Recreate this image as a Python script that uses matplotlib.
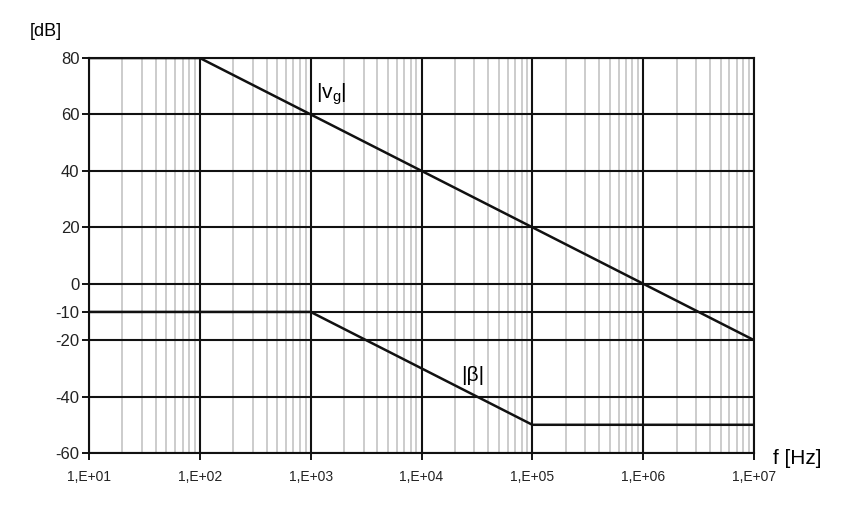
import matplotlib.pyplot as plt
import numpy as np
from matplotlib.ticker import FixedLocator, NullFormatter

plt.rcParams["font.family"] = ["Liberation Sans", "DejaVu Sans"]

# Bode asymptotes
vg_freq = [1e1, 1e2, 1e7]
vg_db = [80, 80, -20]
beta_freq = [1e1, 1e3, 1e5, 1e7]
beta_db = [-10, -10, -50, -50]

y_ticks = [80, 60, 40, 20, 0, -10, -20, -40, -60]
decades = [1e1, 1e2, 1e3, 1e4, 1e5, 1e6, 1e7]
decade_labels = ["1,E+01", "1,E+02", "1,E+03", "1,E+04", "1,E+05", "1,E+06", "1,E+07"]

fig = plt.figure(figsize=(8.6, 5.14), dpi=100)
ax = fig.add_axes([89 / 860, 1 - 453 / 514, (754 - 89) / 860, (453 - 58) / 514])

ax.set_xscale("log")
ax.set_xlim(1e1, 1e7)
ax.set_ylim(-60, 80)

minors = [m * d for d in decades[:-1] for m in range(2, 10)]
for x in minors:
    ax.axvline(x, color="#c8c8c8", lw=1.3, zorder=1)
for x in decades:
    ax.axvline(x, color="#111111", lw=1.5, zorder=2)
for y in y_ticks:
    ax.axhline(y, color="#111111", lw=1.5, zorder=2)

ax.plot(vg_freq, vg_db, color="#111111", lw=1.8, zorder=3)
ax.plot(beta_freq, beta_db, color="#111111", lw=1.8, zorder=3)

ax.set_xticks(decades)
ax.set_xticklabels(decade_labels, fontsize=10, color="#222222")
ax.xaxis.set_minor_locator(FixedLocator(minors))
ax.xaxis.set_minor_formatter(NullFormatter())
ax.tick_params(axis="x", which="minor", length=0)
ax.set_yticks(y_ticks)
ax.set_yticklabels([str(v) for v in y_ticks], fontsize=12, color="#222222")
ax.tick_params(axis="x", length=5, width=1.3, pad=7)
ax.tick_params(axis="y", length=5, width=1.3, pad=2)

for s in ax.spines.values():
    s.set_linewidth(1.5)
    s.set_color("#111111")

ax.text(1.12e3, 62.5, "|v$_\\mathregular{g}$|", fontsize=15, ha="left", va="bottom")
ax.text(2.3e4, -36, "|β|", fontsize=15, ha="left", va="bottom")

fig.text(30 / 860, 1 - 32 / 514, "[dB]", fontsize=13, va="center", ha="left")
fig.text(773 / 860, 1 - 458 / 514, "f [Hz]", fontsize=15, va="center", ha="left")

fig.savefig("out.png", dpi=100)
